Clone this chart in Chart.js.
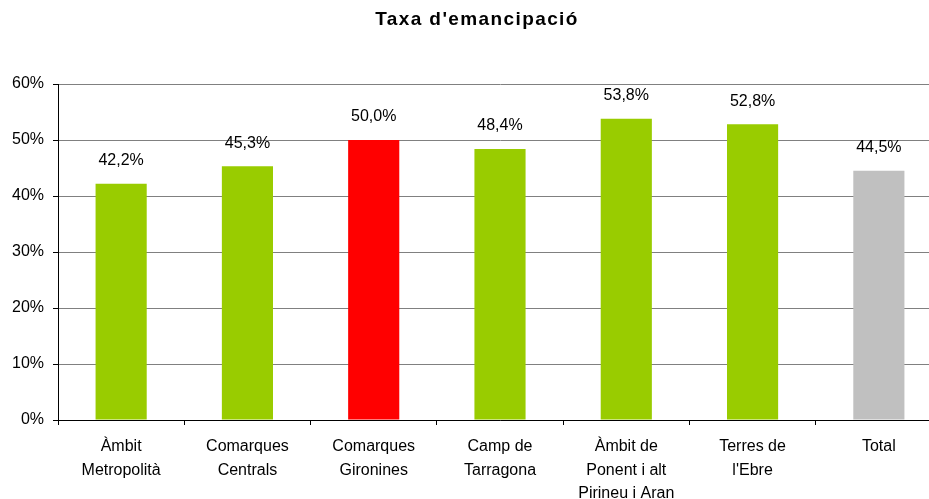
<!DOCTYPE html>
<html>
<head>
<meta charset="utf-8">
<script src="https://cdn.jsdelivr.net/npm/chart.js@4.4.0/dist/chart.umd.min.js"></script>
<style>
  html, body { margin: 0; padding: 0; background: #fff; overflow: hidden; }
  #wrap { width: 942px; height: 499px; }
</style>
</head>
<body>
<div id="wrap"><canvas id="chart"></canvas></div>
<script>
const chartTitle = "Taxa d'emancipació";
const categories = [
  ["Àmbit", "Metropolità"],
  ["Comarques", "Centrals"],
  ["Comarques", "Gironines"],
  ["Camp de", "Tarragona"],
  ["Àmbit de", "Ponent i alt", "Pirineu i Aran"],
  ["Terres de", "l'Ebre"],
  ["Total"]
];
const rates = [42.2, 45.3, 50.0, 48.4, 53.8, 52.8, 44.5];
const barColors = ["#99CC00", "#99CC00", "#FF0000", "#99CC00", "#99CC00", "#99CC00", "#C0C0C0"];

const FONT = "'Liberation Sans', Arial, sans-serif";
const fmt = (v) => v.toFixed(1).replace(".", ",") + "%";

// title with a little letter spacing, like the original
const spacedTitle = {
  id: "spacedTitle",
  afterDraw(chart) {
    const ctx = chart.ctx;
    ctx.save();
    ctx.font = "bold 19px " + FONT;
    ctx.letterSpacing = "1.4px";
    ctx.fillStyle = "#000";
    ctx.textAlign = "center";
    ctx.textBaseline = "middle";
    ctx.fillText(chartTitle, 477, 20);
    ctx.restore();
  }
};

// values written above each bar
const valueLabels = {
  id: "valueLabels",
  afterDatasetsDraw(chart) {
    const ctx = chart.ctx;
    const meta = chart.getDatasetMeta(0);
    ctx.save();
    ctx.font = "16px " + FONT;
    ctx.fillStyle = "#000";
    ctx.textAlign = "center";
    ctx.textBaseline = "middle";
    meta.data.forEach((bar, i) => {
      ctx.fillText(fmt(rates[i]), bar.x, bar.y - 23);
    });
    ctx.restore();
  }
};

new Chart(document.getElementById("chart"), {
  type: "bar",
  data: {
    labels: categories,
    datasets: [{
      data: rates,
      backgroundColor: barColors,
      barPercentage: 0.405,
      categoryPercentage: 1
    }]
  },
  options: {
    responsive: true,
    maintainAspectRatio: false,
    animation: false,
    layout: { padding: { top: 84, left: 0, right: 0, bottom: 0 } },
    plugins: {
      legend: { display: false },
      tooltip: { enabled: false },
      title: { display: false }
    },
    scales: {
      x: {
        offset: true,
        afterFit: (s) => { s.height = 79; },
        border: { color: "#000", width: 1 },
        grid: { display: true, drawOnChartArea: false, drawTicks: true, tickLength: 5, color: "#000", offset: true },
        ticks: {
          color: "#000",
          padding: 10,
          maxRotation: 0,
          autoSkip: false,
          font: { family: FONT, size: 16, lineHeight: "23.5px" }
        }
      },
      y: {
        min: 0,
        max: 60,
        afterFit: (s) => { s.width = 58; },
        border: { color: "#000", width: 1 },
        grid: { color: "#808080", tickColor: "#000", tickLength: 5, drawTicks: true },
        ticks: {
          stepSize: 10,
          color: "#000",
          padding: 9,
          callback: (v) => v + "%",
          font: { family: FONT, size: 16 }
        }
      }
    }
  },
  plugins: [valueLabels, spacedTitle]
});
</script>
</body>
</html>
